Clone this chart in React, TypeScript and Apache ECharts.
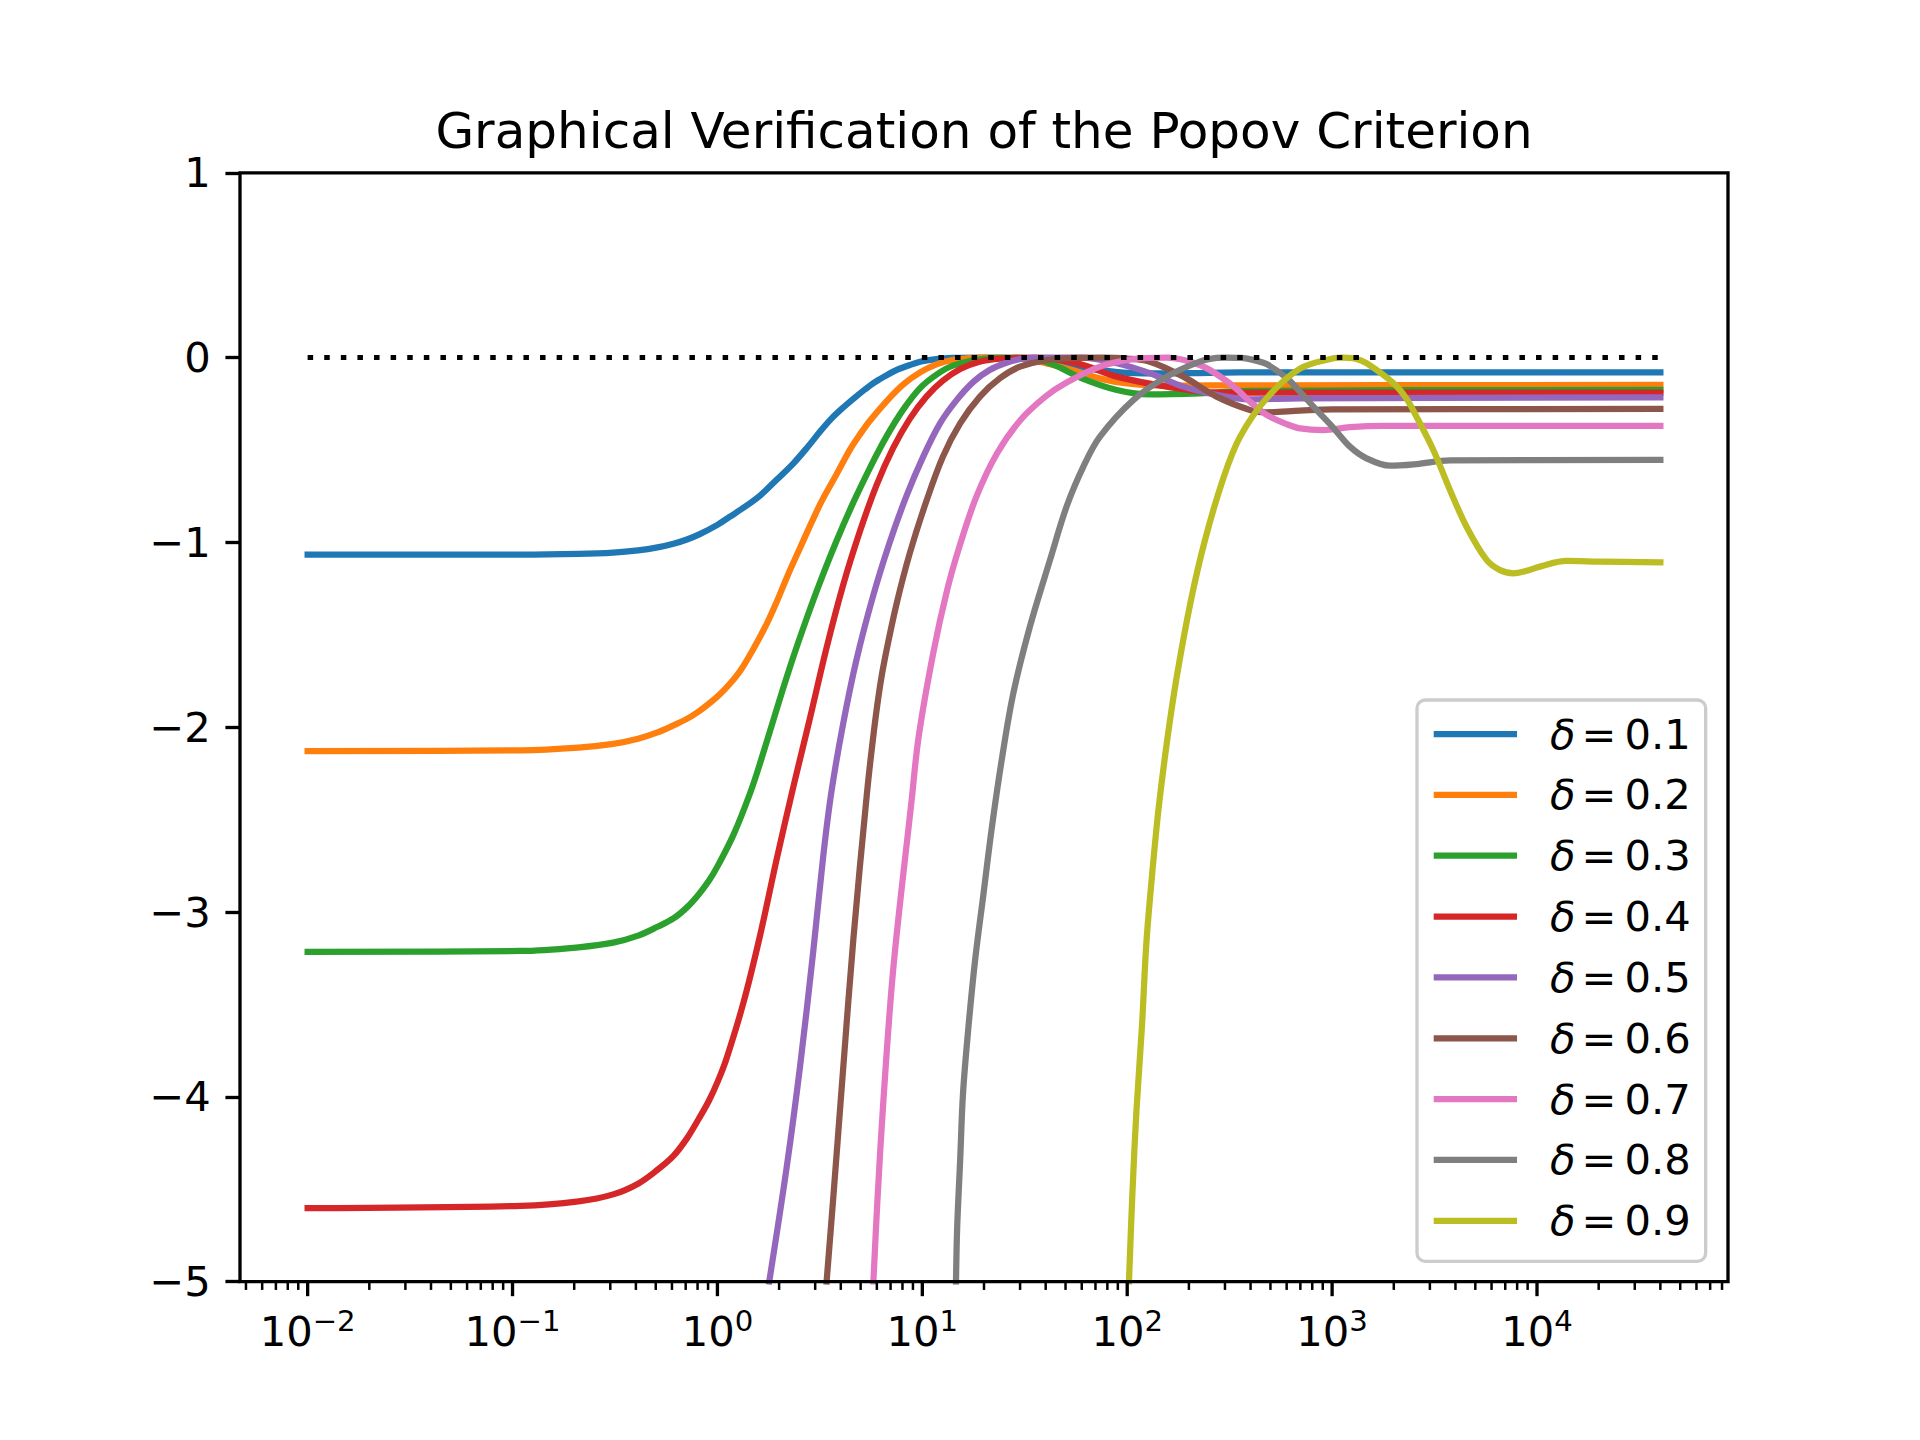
import React, { useEffect, useRef } from 'react';
import * as echarts from 'echarts';

const FONT = 'DejaVu Sans';
const FIG_W = 1920;
const FIG_H = 1440;
// matplotlib default subplot params
const AX_LEFT = 0.125 * FIG_W;
const AX_RIGHT = 0.9 * FIG_W;
const AX_TOP = (1 - 0.88) * FIG_H;
const AX_BOTTOM = (1 - 0.11) * FIG_H;

const TITLE = 'Graphical Verification of the Popov Criterion';

const seriesNames = ['δ = 0.1', 'δ = 0.2', 'δ = 0.3', 'δ = 0.4', 'δ = 0.5', 'δ = 0.6', 'δ = 0.7', 'δ = 0.8', 'δ = 0.9'];
const seriesColors = ['#1f77b4', '#ff7f0e', '#2ca02c', '#d62728', '#9467bd', '#8c564b', '#e377c2', '#7f7f7f', '#bcbd22'];

// [frequency, value]
const delta01 = [
  [0.01, -1.066], [0.11, -1.066], [0.21, -1.062], [0.31, -1.055], [0.41, -1.043], [0.51, -1.027],
  [0.61, -1.007], [0.71, -0.984], [0.82, -0.955], [1.0, -0.905], [1.15, -0.861], [1.35, -0.81],
  [1.62, -0.745], [1.95, -0.66], [2.35, -0.572], [2.75, -0.485], [3.17, -0.40], [3.6, -0.33],
  [4.11, -0.27], [4.7, -0.215], [5.25, -0.172], [5.9, -0.131], [6.7, -0.095], [7.6, -0.064],
  [8.7, -0.04], [10, -0.02], [11.7, -0.008], [14, -0.002], [20, 0], [30, -0.005],
  [45, -0.03], [65, -0.06], [90, -0.078], [130, -0.086], [250, -0.082], [500, -0.08], [40000, -0.08],
];
const delta02 = [
  [0.01, -2.13], [0.11, -2.125], [0.21, -2.11], [0.31, -2.09], [0.41, -2.062], [0.51, -2.028],
  [0.61, -1.99], [0.71, -1.955], [0.81, -1.915], [0.91, -1.872], [1.01, -1.83], [1.15, -1.765],
  [1.3, -1.69], [1.5, -1.575], [1.75, -1.435], [1.95, -1.32], [2.2, -1.18], [2.53, -1.03],
  [2.9, -0.885], [3.25, -0.77], [3.82, -0.63], [4.45, -0.495], [5.0, -0.41], [5.56, -0.34],
  [6.7, -0.235], [8.08, -0.145], [9.75, -0.08], [11.8, -0.035], [14.2, -0.012], [20, 0],
  [30, -0.005], [40, -0.03], [55, -0.07], [75, -0.115], [100, -0.14], [150, -0.152], [250, -0.15], [40000, -0.148],
];
const delta03 = [
  [0.01, -3.216], [0.11, -3.211], [0.21, -3.191], [0.31, -3.166], [0.41, -3.128], [0.51, -3.08],
  [0.61, -3.035], [0.71, -2.975], [0.81, -2.905], [0.91, -2.83], [1.01, -2.745], [1.2, -2.58],
  [1.44, -2.36], [1.62, -2.19], [2.0, -1.86], [2.35, -1.618], [2.75, -1.4], [3.17, -1.215],
  [3.82, -0.99], [4.6, -0.785], [5.56, -0.595], [6.7, -0.425], [8.08, -0.28], [9.75, -0.165],
  [11.8, -0.09], [14.2, -0.042], [20.6, -0.005], [28, 0], [36, -0.01], [45, -0.045],
  [61, -0.115], [89, -0.175], [129, -0.199], [226, -0.193], [400, -0.18], [40000, -0.175],
];
const delta04 = [
  [0.01, -4.603], [0.11, -4.59], [0.21, -4.566], [0.31, -4.528], [0.41, -4.47], [0.51, -4.395],
  [0.61, -4.32], [0.71, -4.225], [0.81, -4.12], [0.91, -4.02], [1.01, -3.91], [1.11, -3.79],
  [1.34, -3.49], [1.62, -3.12], [1.95, -2.71], [2.35, -2.32], [2.83, -1.95], [3.41, -1.57],
  [4.11, -1.23], [4.96, -0.94], [5.98, -0.69], [7.2, -0.49], [8.7, -0.33], [10.5, -0.21],
  [12.6, -0.125], [15.3, -0.062], [19, -0.022], [24, -0.005], [35, 0], [45, -0.01],
  [61, -0.04], [89, -0.103], [156, -0.157], [273, -0.19], [500, -0.19], [40000, -0.19],
];
const delta05 = [
  [1.79, -5.0], [2.18, -4.378], [2.53, -3.837], [2.94, -3.206], [3.29, -2.69], [3.6, -2.35],
  [4.11, -1.98], [4.76, -1.64], [5.75, -1.29], [6.93, -1.0], [8.36, -0.75], [10.1, -0.536],
  [12.2, -0.356], [14.7, -0.23], [17.8, -0.13], [21.3, -0.067], [25.7, -0.028], [31, -0.006],
  [40, 0], [60, 0], [89, -0.031], [129, -0.085], [188, -0.157], [273, -0.202], [397, -0.226],
  [697, -0.22], [40000, -0.215],
];
const delta06 = [
  [3.41, -5.0], [3.68, -4.54], [4.12, -3.83], [4.61, -3.144], [5.36, -2.364], [5.8, -2.024],
  [6.22, -1.776], [6.6, -1.615], [7.5, -1.329], [8.7, -1.056], [10.5, -0.772], [12.6, -0.536],
  [15.3, -0.356], [19.1, -0.211], [23.9, -0.112], [30, -0.049], [40, -0.015], [55, -0.002],
  [75, 0], [100, -0.005], [129, -0.022], [188, -0.103], [273, -0.211], [397, -0.283],
  [479, -0.296], [697, -0.287], [1000, -0.28], [40000, -0.278],
];
const delta07 = [
  [5.77, -5.0], [6.04, -4.558], [6.46, -4.017], [7.23, -3.296], [8.87, -2.394], [9.6, -2.05],
  [11.3, -1.6], [13.2, -1.26], [15.2, -1.02], [18.4, -0.75], [23.1, -0.52], [30, -0.34],
  [40, -0.21], [50.6, -0.135], [73.6, -0.049], [107, -0.008], [156, 0], [226, -0.04],
  [300, -0.12], [350, -0.18], [397, -0.238], [479, -0.31], [600, -0.36], [697, -0.383],
  [906, -0.392], [1222, -0.376], [1778, -0.369], [40000, -0.369],
];
const delta08 = [
  [14.6, -5.0], [14.8, -4.703], [15.3, -4.342], [15.8, -3.981], [16.8, -3.62], [18.1, -3.26],
  [19.9, -2.899], [21.8, -2.55], [24.4, -2.178], [27.8, -1.817], [33.5, -1.456], [42, -1.095],
  [50.6, -0.806], [61.1, -0.59], [73.6, -0.428], [107, -0.23], [156, -0.103], [226, -0.022],
  [273, -0.002], [300, 0], [360, -0.002], [420, -0.015], [479, -0.035], [600, -0.11],
  [697, -0.185], [850, -0.29], [1014, -0.38], [1222, -0.482], [1472, -0.545], [1914, -0.585],
  [2582, -0.576], [3758, -0.556], [40000, -0.554],
];
const delta09 = [
  [102, -5.0], [106, -4.522], [111, -4.071], [118, -3.62], [124, -3.169], [132, -2.809],
  [142, -2.448], [156, -2.087], [174, -1.735], [205, -1.31], [240, -0.985], [294, -0.655],
  [355, -0.43], [479, -0.22], [697, -0.06], [1014, -0.004], [1112, 0], [1300, -0.006],
  [1472, -0.03], [1995, -0.139], [2300, -0.22], [2582, -0.32], [3119, -0.5], [3758, -0.716],
  [4529, -0.915], [5675, -1.095], [6600, -1.15], [7656, -1.167], [8800, -1.155], [10330, -1.131],
  [13930, -1.1], [20280, -1.104], [40000, -1.108],
];
const seriesData = [delta01, delta02, delta03, delta04, delta05, delta06, delta07, delta08, delta09];

const zeroLine = [[0.01, 0], [40000, 0]];

const yMin = -5;
const yMax = 1;
const yInterval = 1;

const xMajorTicks = [0.01, 0.1, 1, 10, 100, 1000, 10000];
const xMinorTicks = [
  0.005, 0.006, 0.007, 0.008, 0.009,
  0.02, 0.03, 0.04, 0.05, 0.06, 0.07, 0.08, 0.09,
  0.2, 0.3, 0.4, 0.5, 0.6, 0.7, 0.8, 0.9,
  2, 3, 4, 5, 6, 7, 8, 9,
  20, 30, 40, 50, 60, 70, 80, 90,
  200, 300, 400, 500, 600, 700, 800, 900,
  2000, 3000, 4000, 5000, 6000, 7000, 8000, 9000,
  20000, 30000, 40000, 50000, 60000, 70000, 80000,
];

const PT = 300 / 72; // pixels per point
const FS = 10 * PT;

export default function App() {
  const ref = useRef<HTMLDivElement>(null);
  useEffect(() => {
    document.body.style.margin = '0';
    if (!ref.current) return;
    const chart = echarts.init(ref.current, undefined, { renderer: 'svg' });

    const lx0 = Math.log10(zeroLine[0][0]);
    const lx1 = Math.log10(zeroLine[1][0]);
    const margin = (lx1 - lx0) * 0.05;
    const xMin = Math.pow(10, lx0 - margin);
    const xMax = Math.pow(10, lx1 + margin);

    const curveSeries = seriesData.map((d, i) => ({
      name: seriesNames[i],
      type: 'line',
      data: d,
      symbol: 'none',
      smooth: 0.35,
      silent: true,
      color: seriesColors[i],
      itemStyle: { color: seriesColors[i] },
      lineStyle: { color: seriesColors[i], width: 1.5 * PT, cap: 'square', join: 'round' },
      clip: true,
      z: 2,
    }));

    const tickData = [
      ...xMajorTicks.map((v) => [v, yMin, 1]),
      ...xMinorTicks.map((v) => [v, yMin, 0]),
    ];

    const option: any = {
      animation: false,
      textStyle: { fontFamily: FONT },
      grid: {
        left: AX_LEFT,
        top: AX_TOP,
        width: AX_RIGHT - AX_LEFT,
        height: AX_BOTTOM - AX_TOP,
        containLabel: false,
        outerBoundsMode: 'none',
        show: true,
        backgroundColor: 'transparent',
        borderColor: '#000',
        borderWidth: 0.8 * PT,
        z: 5,
      },
      graphic: [
        {
          type: 'text',
          x: (AX_LEFT + AX_RIGHT) / 2,
          y: AX_TOP - 6 * PT - 0.346 * 12 * PT,
          z: 10,
          style: {
            text: TITLE,
            fontFamily: FONT,
            fontSize: 12 * PT,
            fill: '#000',
            align: 'center',
            verticalAlign: 'middle',
            textAlign: 'center',
            textVerticalAlign: 'middle',
          },
        },
      ],
      legend: {
        data: seriesNames,
        orient: 'vertical',
        left: 1417,
        top: 700,
        padding: [13, 15, 19.5, 16.7],
        itemWidth: 2 * FS,
        itemHeight: 1.5 * PT,
        itemGap: 18.85,
        icon: 'rect',
        itemStyle: { borderWidth: 0 },
        backgroundColor: 'rgba(255,255,255,0.8)',
        borderColor: '#cccccc',
        borderWidth: 0.8 * PT,
        borderRadius: 0.2 * FS,
        selectedMode: false,
        z: 6,
        formatter: (name: string) => `{d|δ}{e|=}{t|${name.split('= ')[1]}}`,
        textStyle: {
          color: '#000',
          fontFamily: FONT,
          fontSize: FS,
          lineHeight: 42,
          rich: {
            d: { fontFamily: FONT, fontSize: FS, fontStyle: 'italic', lineHeight: 42, color: '#000', padding: [0, 0, 0, 28] },
            e: { fontFamily: FONT, fontSize: FS, lineHeight: 42, color: '#000', padding: [0, 8, 0, 6] },
            t: { fontFamily: FONT, fontSize: FS, lineHeight: 42, color: '#000' },
          },
        },
      },
      xAxis: {
        type: 'log',
        logBase: 10,
        min: xMin,
        max: xMax,
        axisLine: { show: false },
        axisTick: { show: false },
        minorTick: { show: false },
        splitLine: { show: false },
        axisLabel: {
          margin: 25,
          color: '#000',
          formatter: (v: number) => {
            const l = Math.log10(v);
            const r = Math.round(l);
            if (Math.abs(l - r) > 1e-6) return '';
            const e = r < 0 ? '\u2212' + Math.abs(r) : String(r);
            return `{b|10}{s|${e}}`;
          },
          rich: {
            b: { fontFamily: FONT, fontSize: FS, lineHeight: 50, color: '#000' },
            s: { fontFamily: FONT, fontSize: FS * 0.7, lineHeight: 30, verticalAlign: 'top', color: '#000' },
          },
        },
      },
      yAxis: {
        type: 'value',
        min: yMin,
        max: yMax,
        interval: yInterval,
        axisLine: { show: false },
        axisTick: { show: true, length: 3.5 * PT, lineStyle: { color: '#000', width: 0.8 * PT } },
        splitLine: { show: false },
        axisLabel: {
          margin: 7 * PT,
          color: '#000',
          fontFamily: FONT,
          fontSize: FS,
          formatter: (v: number) => (v < 0 ? '\u2212' + Math.abs(v) : String(v)),
        },
      },
      series: [
        ...curveSeries,
        {
          name: 'zero',
          type: 'line',
          data: zeroLine,
          symbol: 'none',
          silent: true,
          lineStyle: { color: '#000', width: 5, type: [5.5, 11.1], cap: 'butt' },
          z: 3,
        },
        {
          name: 'xticks',
          type: 'custom',
          data: tickData,
          silent: true,
          clip: false,
          encode: { x: 0, y: 1 },
          z: 6,
          renderItem: (_params: any, api: any) => {
            const p = api.coord([api.value(0), api.value(1)]);
            const major = api.value(2) === 1;
            const len = major ? 3.5 * PT : 2 * PT;
            return {
              type: 'line',
              shape: { x1: p[0], y1: p[1], x2: p[0], y2: p[1] + len },
              style: { stroke: '#000', lineWidth: major ? 0.8 * PT : 0.6 * PT },
            };
          },
        },
      ],
    };
    chart.setOption(option);
    return () => chart.dispose();
  }, []);
  return <div ref={ref} style={{ width: FIG_W, height: FIG_H }} />;
}
